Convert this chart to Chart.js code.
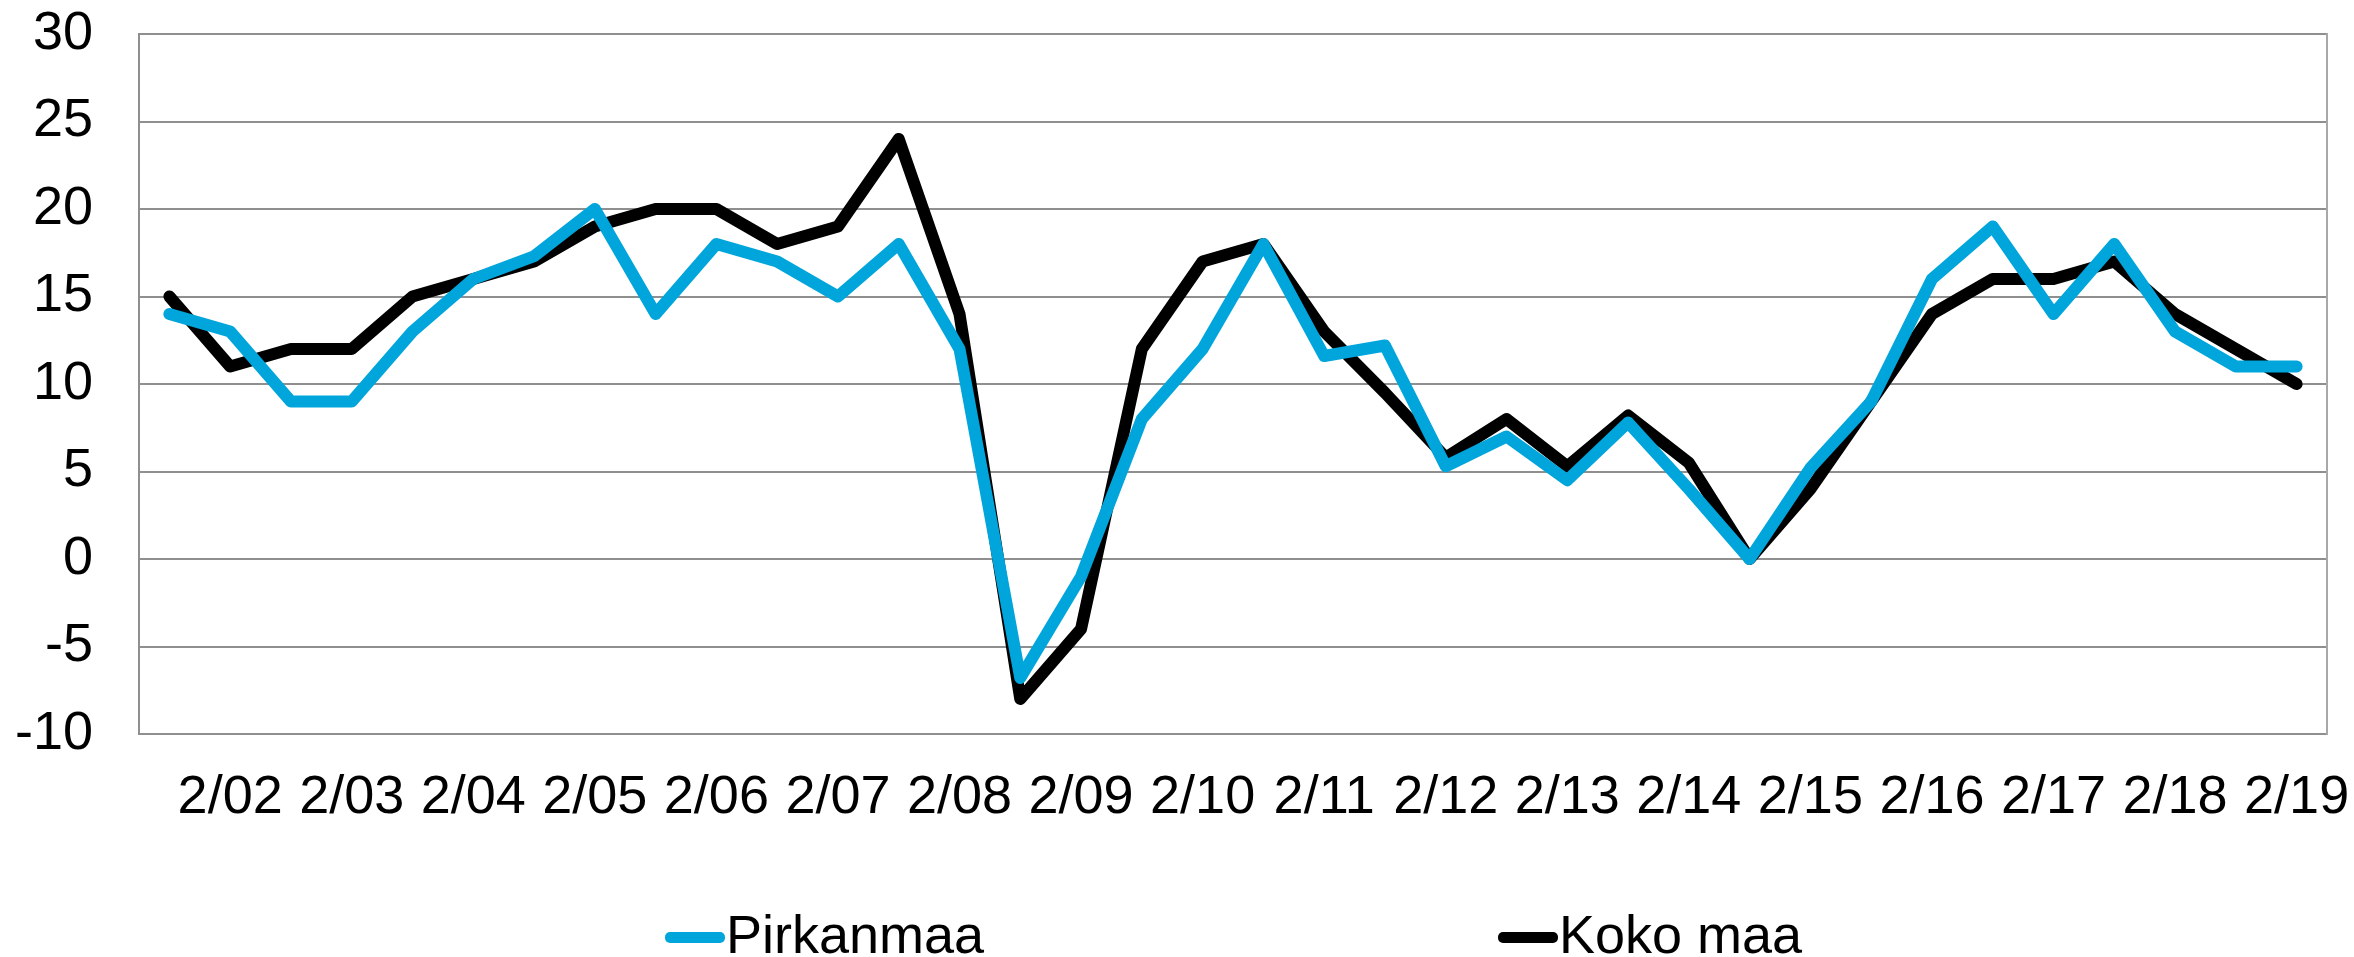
<!DOCTYPE html>
<html><head><meta charset="utf-8">
<script src="https://cdn.jsdelivr.net/npm/chart.js@4/dist/chart.umd.min.js"></script>
<style>
html,body{margin:0;padding:0;background:#fff;}
#wrap{position:relative;width:2354px;height:957px;overflow:hidden;background:#fff;}
#c{position:absolute;left:0;top:0;}
#legend{position:absolute;left:665px;top:907px;height:54px;display:flex;font-family:'Liberation Sans',Arial,sans-serif;font-size:54px;line-height:54px;color:#000;}
.item{position:relative;width:833px;height:54px;}
.swatch{position:absolute;left:0;top:25px;width:60px;height:11px;border-radius:5px;}
.label{position:absolute;left:61px;top:0;white-space:nowrap;}
</style></head>
<body><div id="wrap"><canvas id="c" width="2354" height="957"></canvas><div id="legend"></div></div>
<script>
const categories = ["8/01","2/02","8/02","2/03","8/03","2/04","8/04","2/05","8/05","2/06","8/06","2/07","8/07","2/08","8/08","2/09","8/09","2/10","8/10","2/11","8/11","2/12","8/12","2/13","8/13","2/14","8/14","2/15","8/15","2/16","8/16","2/17","8/17","2/18","8/18","2/19"];
const shownTickLabels = ["2/02","2/03","2/04","2/05","2/06","2/07","2/08","2/09","2/10","2/11","2/12","2/13","2/14","2/15","2/16","2/17","2/18","2/19"];
const pirkanmaa = [14,13,9,9,13,16,17.3,20,14,18,17,15,18,12,-6.8,-1,8,12,18,11.6,12.2,5.3,7,4.5,7.8,4,0,5.2,9,16,19,14,18,13,11,11];
const kokoMaa = [15,11,12,12,15,16,17,19,20,20,18,19,24,14,-8,-4,12,17,18,13,9.5,5.8,8,5.3,8.2,5.5,0,4,9,14,16,16,17,14,12,10];
const seriesNames = ["Pirkanmaa","Koko maa"];
const yMin = -10, yMax = 30, yStep = 5;

const FONT = "'Liberation Sans', Arial, sans-serif";
const GRID = '#8f8f8f';

const zeroPad = (s) => { s.paddingLeft = 0; s.paddingRight = 0; s.paddingTop = 0; s.paddingBottom = 0; };

const htmlLegend = {
  id: 'htmlLegend',
  afterUpdate(chart) {
    const box = document.getElementById('legend');
    box.innerHTML = '';
    const items = chart.options.plugins.legend.labels.generateLabels(chart);
    items.forEach(it => {
      const d = document.createElement('div'); d.className = 'item';
      const sw = document.createElement('span'); sw.className = 'swatch'; sw.style.background = it.strokeStyle;
      const tx = document.createElement('span'); tx.className = 'label'; tx.textContent = it.text;
      d.appendChild(sw); d.appendChild(tx); box.appendChild(d);
    });
  }
};

new Chart(document.getElementById('c'), {
  type: 'line',
  data: {
    labels: categories,
    datasets: [
      { label: seriesNames[0], data: pirkanmaa, borderColor: '#00A5DC', backgroundColor: '#00A5DC', borderWidth: 12, pointRadius: 0, tension: 0, borderJoinStyle: 'round', borderCapStyle: 'round' },
      { label: seriesNames[1], data: kokoMaa, borderColor: '#000000', backgroundColor: '#000000', borderWidth: 12, pointRadius: 0, tension: 0, borderJoinStyle: 'round', borderCapStyle: 'round' }
    ]
  },
  options: {
    responsive: false,
    animation: false,
    layout: { padding: { left: 0, right: 27, top: 34, bottom: 0 } },
    plugins: { legend: { display: false }, tooltip: { enabled: false } },
    scales: {
      x: {
        offset: true,
        grid: { display: false, drawTicks: false },
        border: { display: true, color: GRID, width: 2 },
        ticks: {
          autoSkip: false, maxRotation: 0, minRotation: 0, padding: 32, color: '#000',
          font: { family: FONT, size: 54 },
          callback: function(v, i) { const c = categories[i]; return shownTickLabels.includes(c) ? c : ''; }
        },
        afterFit: (s) => { zeroPad(s); s.height = 223; }
      },
      y: {
        min: yMin, max: yMax,
        grid: { color: GRID, lineWidth: 2, drawTicks: false },
        border: { display: true, color: GRID, width: 2 },
        ticks: { stepSize: yStep, padding: 46, color: '#000', font: { family: FONT, size: 54 } },
        afterFit: (s) => { zeroPad(s); s.width = 139; }
      },
      y2: {
        position: 'right', min: yMin, max: yMax,
        grid: { display: false, drawTicks: false },
        border: { display: true, color: '#a8a8a8', width: 2 },
        ticks: { display: false },
        afterFit: zeroPad
      }
    }
  },
  plugins: [htmlLegend]
});
</script>
</body></html>
